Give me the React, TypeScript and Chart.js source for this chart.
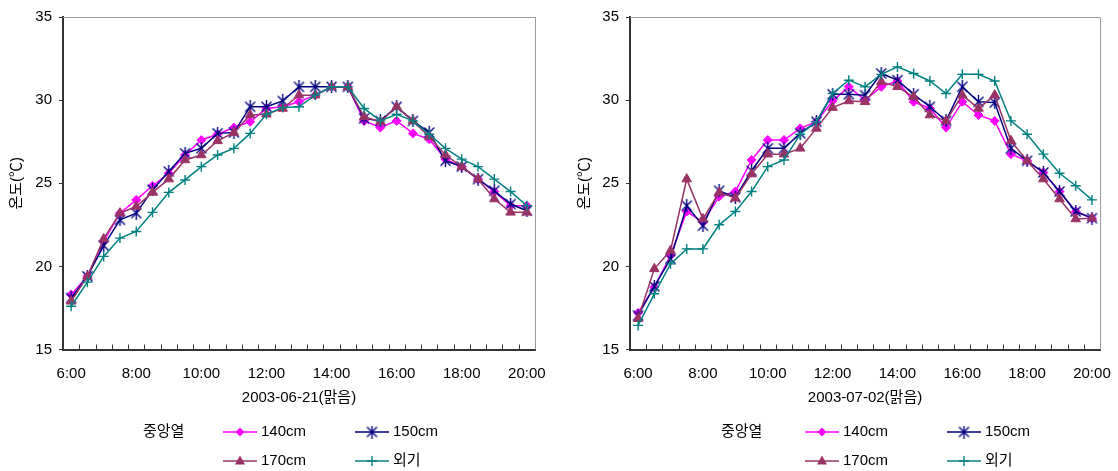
import React, { useEffect, useRef } from 'react';
import { Chart, registerables } from 'chart.js';

Chart.register(...registerables);

// Half-hour sampling times, 6:00 – 20:00
const times = [
  '6:00', '6:30', '7:00', '7:30', '8:00', '8:30', '9:00', '9:30', '10:00', '10:30',
  '11:00', '11:30', '12:00', '12:30', '13:00', '13:30', '14:00', '14:30', '15:00', '15:30',
  '16:00', '16:30', '17:00', '17:30', '18:00', '18:30', '19:00', '19:30', '20:00',
];
// Hours that carry a printed label on the time axis
const hourLabels = ['6:00', '8:00', '10:00', '12:00', '14:00', '16:00', '18:00', '20:00'];

const seriesNames = ['140cm', '150cm', '170cm', '외기'];
const groupLabel = '중앙열';
const yAxisTitle = '온도(℃)';

// 2003-06-21 (clear)
const day1Title = '2003-06-21(맑음)';
const day1H140 = [18.3, 19.4, 21.5, 23.2, 24.0, 24.85, 25.6, 26.7, 27.6, 27.95, 28.35, 28.7, 29.5, 29.6, 29.9, 30.3, 30.8, 30.8, 28.75, 28.35, 28.75, 28.0, 27.65, 26.45, 26.0, 25.25, 24.5, 23.65, 23.65];
const day1H150 = [18.1, 19.4, 21.25, 22.8, 23.2, 24.6, 25.7, 26.8, 27.1, 28.0, 28.05, 29.6, 29.6, 29.95, 30.8, 30.8, 30.8, 30.8, 28.9, 28.75, 29.6, 28.75, 28.05, 26.35, 26.0, 25.25, 24.55, 23.75, 23.35];
const day1H170 = [17.9, 19.4, 21.65, 23.2, 23.6, 24.45, 25.25, 26.4, 26.7, 27.55, 28.05, 29.1, 29.15, 29.5, 30.3, 30.3, 30.8, 30.8, 29.0, 28.7, 29.6, 28.75, 27.8, 26.7, 26.0, 25.25, 24.05, 23.25, 23.25];
const day1Outside = [17.6, 19.05, 20.6, 21.7, 22.1, 23.25, 24.45, 25.2, 26.0, 26.7, 27.1, 28.0, 29.15, 29.55, 29.6, 30.3, 30.8, 30.8, 29.5, 28.75, 29.15, 28.75, 27.95, 27.1, 26.45, 26.0, 25.25, 24.5, 23.65];

// 2003-07-02 (clear)
const day2Title = '2003-07-02(맑음)';
const day2H140 = [17.2, 18.75, 20.65, 23.3, 22.65, 24.2, 24.5, 26.4, 27.6, 27.6, 28.3, 28.7, 29.95, 30.8, 30.0, 30.8, 31.15, 29.9, 29.5, 28.35, 29.9, 29.1, 28.75, 26.75, 26.35, 25.65, 24.5, 23.3, 22.9];
const day2H150 = [17.05, 18.8, 20.45, 23.65, 22.45, 24.55, 24.15, 25.75, 27.1, 27.1, 28.0, 28.7, 30.35, 30.35, 30.3, 31.6, 31.2, 30.35, 29.6, 28.75, 30.8, 29.9, 29.85, 27.1, 26.35, 25.65, 24.5, 23.3, 22.9];
const day2H170 = [16.85, 19.85, 20.95, 25.25, 22.85, 24.45, 24.1, 25.55, 26.75, 26.75, 27.1, 28.3, 29.55, 29.95, 29.9, 31.1, 30.8, 30.2, 29.1, 28.75, 30.3, 29.5, 30.3, 27.55, 26.35, 25.25, 24.05, 22.85, 22.9];
const day2Outside = [16.45, 18.35, 20.15, 21.05, 21.05, 22.5, 23.3, 24.5, 26.0, 26.4, 27.95, 28.7, 30.4, 31.2, 30.8, 31.55, 32.0, 31.6, 31.15, 30.4, 31.55, 31.55, 31.15, 28.75, 27.95, 26.75, 25.6, 24.85, 24.0];

const colors = ['#FF00FF', '#000080', '#993366', '#008080'];
const FONT = "'Liberation Sans', 'Noto Sans CJK KR', sans-serif";

const CANVAS_W = 559;
const CANVAS_H = 471;

// Asterisk-like marker: an X with a vertical stroke
function makeStarMarker(color: string): HTMLCanvasElement {
  const c = document.createElement('canvas');
  c.width = 13;
  c.height = 13;
  const g = c.getContext('2d')!;
  g.strokeStyle = color;
  g.lineWidth = 1.4;
  g.beginPath();
  g.moveTo(1.5, 1.5); g.lineTo(11.5, 11.5);
  g.moveTo(11.5, 1.5); g.lineTo(1.5, 11.5);
  g.moveTo(6.5, 0); g.lineTo(6.5, 13);
  g.stroke();
  return c;
}

function drawMarker(ctx: CanvasRenderingContext2D, idx: number, x: number, y: number, star: HTMLCanvasElement) {
  ctx.save();
  ctx.fillStyle = colors[idx];
  ctx.strokeStyle = colors[idx];
  if (idx === 0) {
    const r = 4.5;
    ctx.beginPath();
    ctx.moveTo(x, y - r); ctx.lineTo(x + r, y); ctx.lineTo(x, y + r); ctx.lineTo(x - r, y);
    ctx.closePath();
    ctx.fill();
  } else if (idx === 1) {
    ctx.drawImage(star, x - star.width / 2, y - star.height / 2);
  } else if (idx === 2) {
    ctx.beginPath();
    ctx.moveTo(x, y - 5.5); ctx.lineTo(x + 5, y + 3.5); ctx.lineTo(x - 5, y + 3.5);
    ctx.closePath();
    ctx.fill();
  } else {
    ctx.lineWidth = 1.4;
    ctx.beginPath();
    ctx.moveTo(x - 5, y); ctx.lineTo(x + 5, y);
    ctx.moveTo(x, y - 5); ctx.lineTo(x, y + 5);
    ctx.stroke();
  }
  ctx.restore();
}

type Panel = {
  title: string;
  series: number[][];
  padLeft: number;
  padRight: number;
  titlePad: number;
  legendGroupX: number;
  legendCol1X: number;
  legendCol2X: number;
};

function TempChart({ panel }: { panel: Panel }) {
  const ref = useRef<HTMLCanvasElement | null>(null);

  useEffect(() => {
    const canvas = ref.current;
    if (!canvas) return;
    const star = makeStarMarker(colors[1]);

    // Frame lines, inward category ticks and the two-row legend
    const decorations = {
      id: 'decorations',
      afterDraw(chart: any) {
        const { ctx, chartArea } = chart;
        const { left, right, top, bottom } = chartArea;
        ctx.save();
        ctx.strokeStyle = '#999999';
        ctx.lineWidth = 1;
        ctx.beginPath();
        ctx.moveTo(left, top + 0.5);
        ctx.lineTo(right + 0.5, top + 0.5);
        ctx.lineTo(right + 0.5, bottom);
        ctx.stroke();

        const xs = chart.scales.x;
        ctx.strokeStyle = '#333333';
        ctx.beginPath();
        for (let i = 1; i < times.length; i++) {
          const px = Math.round((xs.getPixelForValue(i - 1) + xs.getPixelForValue(i)) / 2) + 0.5;
          ctx.moveTo(px, bottom);
          ctx.lineTo(px, bottom - 5);
        }
        ctx.stroke();

        // legend
        ctx.font = `15px ${FONT}`;
        ctx.fillStyle = '#000';
        ctx.textBaseline = 'middle';
        ctx.textAlign = 'left';
        const row1 = 432;
        const row2 = 461;
        ctx.fillText(groupLabel, left + panel.legendGroupX, row1);
        const slots = [
          { x: left + panel.legendCol1X, y: row1 },
          { x: left + panel.legendCol2X, y: row1 },
          { x: left + panel.legendCol1X, y: row2 },
          { x: left + panel.legendCol2X, y: row2 },
        ];
        slots.forEach((s, i) => {
          ctx.strokeStyle = colors[i];
          ctx.lineWidth = 1.5;
          ctx.beginPath();
          ctx.moveTo(s.x, s.y);
          ctx.lineTo(s.x + 34, s.y);
          ctx.stroke();
          drawMarker(ctx, i, s.x + 17, s.y, star);
          ctx.fillStyle = '#000';
          ctx.fillText(seriesNames[i], s.x + 38, s.y);
        });
        ctx.restore();
      },
    };

    const pointStyles: any[] = ['rectRot', star, 'triangle', 'cross'];
    const radii = [4.5, 6, 5.5, 5];

    const chart = new Chart(canvas, {
      type: 'line',
      data: {
        labels: times,
        datasets: panel.series.map((vals, i) => ({
          label: seriesNames[i],
          data: vals,
          borderColor: colors[i],
          backgroundColor: colors[i],
          borderWidth: 1.5,
          pointStyle: pointStyles[i],
          pointRadius: radii[i],
          pointBorderWidth: i === 3 ? 1.4 : 1,
          pointBackgroundColor: colors[i],
          pointBorderColor: colors[i],
          tension: 0,
          order: 4 - i,
          clip: false as any,
        })),
      },
      options: {
        responsive: false,
        animation: false,
        devicePixelRatio: 1,
        layout: { padding: { left: panel.padLeft, right: panel.padRight, top: 17, bottom: 64 } },
        plugins: {
          legend: { display: false },
          tooltip: { enabled: false },
        },
        scales: {
          x: {
            type: 'category',
            offset: true,
            grid: { display: false, offset: true },
            border: { display: true, color: '#333333', width: 2 },
            ticks: {
              autoSkip: false,
              maxRotation: 0,
              minRotation: 0,
              padding: 7,
              color: '#000',
              font: { size: 15, family: FONT },
              callback: (_v: any, i: number) => (hourLabels.includes(times[i]) ? times[i] : ''),
            },
            title: {
              display: true,
              text: panel.title,
              color: '#000',
              font: { size: 15, family: FONT },
              padding: { top: 0, bottom: 0 },
            },
            afterFit: (s: any) => { s.height = 57.5; },
          },
          y: {
            min: 15,
            max: 35,
            ticks: {
              stepSize: 5,
              padding: 7,
              color: '#000',
              font: { size: 15, family: FONT },
            },
            grid: { drawOnChartArea: false, drawTicks: true, tickLength: 4, color: '#333333' },
            border: { display: true, color: '#333333', width: 2 },
            title: {
              display: true,
              text: yAxisTitle,
              color: '#000',
              font: { size: 15, family: FONT },
              padding: { top: panel.titlePad, bottom: 0 },
            },
            afterFit: (s: any) => { s.width = 63; },
          },
        },
      },
      plugins: [decorations],
    });

    return () => chart.destroy();
  }, [panel]);

  return <canvas ref={ref} width={CANVAS_W} height={CANVAS_H} style={{ display: 'block' }} />;
}

const leftPanel: Panel = {
  title: day1Title,
  series: [day1H140, day1H150, day1H170, day1Outside],
  padLeft: 0,
  padRight: 24,
  titlePad: 8,
  legendGroupX: 80,
  legendCol1X: 160,
  legendCol2X: 292,
};

const rightPanel: Panel = {
  title: day2Title,
  series: [day2H140, day2H150, day2H170, day2Outside],
  padLeft: 8,
  padRight: 16,
  titlePad: 9,
  legendGroupX: 91,
  legendCol1X: 175,
  legendCol2X: 317,
};

export default function App() {
  return (
    <div style={{ position: 'absolute', left: 0, top: 0, width: 1118, height: 471, background: '#fff' }}>
      <div style={{ position: 'absolute', left: 0, top: 0 }}>
        <TempChart panel={leftPanel} />
      </div>
      <div style={{ position: 'absolute', left: 559, top: 0 }}>
        <TempChart panel={rightPanel} />
      </div>
    </div>
  );
}
